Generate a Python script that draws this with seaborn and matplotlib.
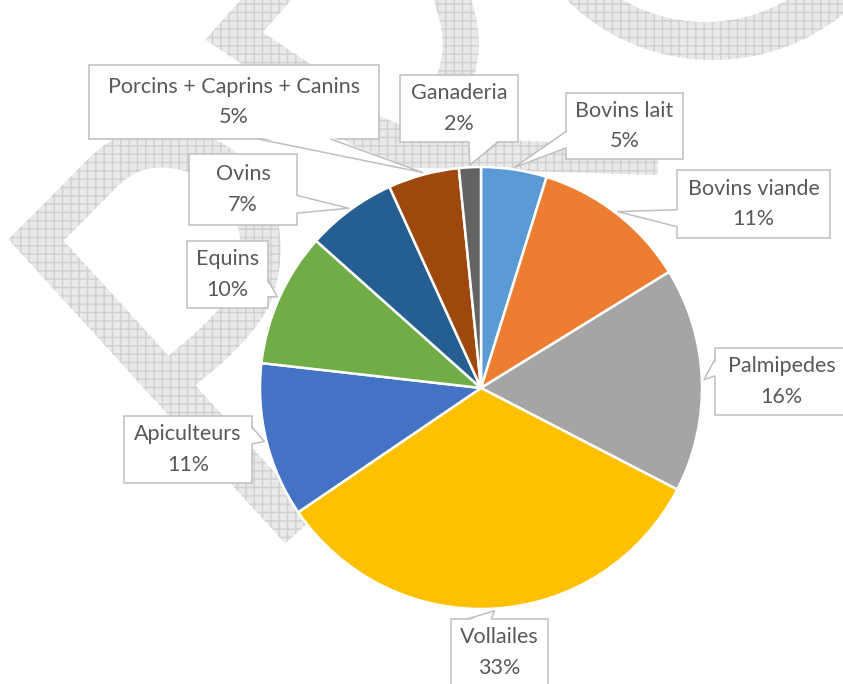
import numpy as np
import matplotlib
matplotlib.use('Agg')
import matplotlib.pyplot as plt
from matplotlib.patches import Polygon, Rectangle
import seaborn as sns

# Data: share of each breeding sector (%), clockwise from the top
categories = ['Bovins lait', 'Bovins viande', 'Palmipedes', 'Vollailes', 'Apiculteurs',
              'Equins', 'Ovins', 'Porcins + Caprins + Canins', 'Ganaderia']
shares = [4.8, 11.4, 16.4, 32.9, 11.3, 9.8, 6.6, 5.2, 1.6]
colors = ['#5B9BD5', '#ED7D31', '#A5A5A5', '#FFC000', '#4472C4',
          '#70AD47', '#255E91', '#9E480E', '#636363']

# callout boxes (left, top, right, bottom) in image pixels, same order
label_boxes = [(566, 93, 683, 159), (677, 170, 830, 238), (715, 348, 848, 415),
               (451, 619, 548, 686), (124, 416, 252, 483), (187, 241, 268, 308),
               (189, 154, 297, 225), (89, 65, 379, 139), (400, 75, 518, 142)]

W, H = 843, 684
sns.set_theme(style='white')
plt.rcParams['font.family'] = ['Lato', 'DejaVu Sans']
plt.rcParams['hatch.color'] = '#CFCFCF'
plt.rcParams['hatch.linewidth'] = 1.0

fig = plt.figure(figsize=(W / 100, H / 100), dpi=100)
ax = fig.add_axes([0, 0, 1, 1])


def flip(pts):
    p = np.asarray(pts, float).copy()
    p[:, 1] = H - p[:, 1]
    return p


def smooth(pts, n=3):
    p = np.asarray(pts, float)
    for _ in range(n):
        q = 0.75 * p[:-1] + 0.25 * p[1:]
        r = 0.25 * p[:-1] + 0.75 * p[1:]
        p = np.vstack([p[0], np.column_stack([q, r]).reshape(-1, 2), p[-1]])
    return p


def band(pts, width):
    p = np.asarray(pts, float)
    d = np.diff(p, axis=0)
    d /= np.linalg.norm(d, axis=1)[:, None]
    nrm = np.column_stack([-d[:, 1], d[:, 0]])
    offs = np.zeros_like(p)
    offs[0], offs[-1] = nrm[0], nrm[-1]
    for i in range(1, len(p) - 1):
        m = nrm[i - 1] + nrm[i]
        m /= np.linalg.norm(m)
        offs[i] = m / np.dot(m, nrm[i])
    return np.vstack([p + offs * width / 2, (p - offs * width / 2)[::-1]])


# background watermark (hatched grey bands)
leaf = np.vstack([[(300, 530)],
                  smooth([(36, 240), (80, 196), (122, 153), (168, 145), (218, 160),
                          (252, 197), (263, 247), (254, 297), (222, 337), (180, 372)])])
wm_shapes = [band(leaf, 40),
             band([(288, -25), (234, 36), (300, 80), (360, 128), (415, 152)], 38),
             band(smooth([(448, -15), (463, 35), (456, 82), (434, 122), (400, 150)]), 36),
             band([(390, 152), (658, 160)], 30)]
t = np.linspace(0, np.pi, 120)
outer = np.column_stack([713 - 208 * np.cos(t), -148 + 208 * np.sin(t)])
inner = np.column_stack([705 - 164 * np.cos(t), -142 + 164 * np.sin(t)])
wm_shapes.append(np.vstack([outer, inner[::-1]]))
for shp in wm_shapes:
    ax.add_patch(Polygon(flip(shp), closed=True, facecolor='#E9E9E9', edgecolor='#CFCFCF',
                         hatch='++', linewidth=0, zorder=0))

# pie
cx, cy, rad = 481, H - 388, 221
wedges, _ = ax.pie(shares, colors=colors, startangle=90, counterclock=False,
                   center=(cx, cy), radius=rad, normalize=True,
                   wedgeprops=dict(edgecolor='white', linewidth=1.8))
for w in wedges:
    w.set_zorder(2)

pct = np.array(shares) / sum(shares) * 100
edge_col = '#BFBFBF'
for w, name, p, (x0, y0, x1, y1) in zip(wedges, categories, pct, label_boxes):
    mid = np.deg2rad((w.theta1 + w.theta2) / 2)
    tipx = cx + rad * 1.01 * np.cos(mid)
    tipy = H - (cy + rad * 1.01 * np.sin(mid))  # screen y
    bw, bh = x1 - x0, y1 - y0
    hc, vc = (x0 + x1) / 2, (y0 + y1) / 2
    dx, dy = tipx - hc, tipy - vc
    # tail base placed like an Office rectangle callout
    if abs(dy) - abs(dx * bh / bw) > 0:
        g = (7, 10) if dx > 0 else (2, 5)
        ye = y1 if dy > 0 else y0
        s = 1 if dy > 0 else -1
        b1, b2 = (x0 + bw * g[0] / 12, ye), (x0 + bw * g[1] / 12, ye)
        i1, i2 = (b1[0], ye - 2 * s), (b2[0], ye - 2 * s)
    else:
        g = (7, 10) if dy > 0 else (2, 5)
        xe = x1 if dx > 0 else x0
        s = 1 if dx > 0 else -1
        b1, b2 = (xe, y0 + bh * g[0] / 12), (xe, y0 + bh * g[1] / 12)
        i1, i2 = (xe - 2 * s, b1[1]), (xe - 2 * s, b2[1])
    ax.add_patch(Rectangle((x0, H - y1), bw, bh, facecolor='white', edgecolor=edge_col,
                           linewidth=1.1, zorder=3))
    ax.add_patch(Polygon(flip([i1, (tipx, tipy), i2]), closed=True, facecolor='white',
                         edgecolor='none', zorder=4))
    tail = flip([b1, (tipx, tipy), b2])
    ax.plot(tail[:, 0], tail[:, 1], color=edge_col, linewidth=1.1, zorder=5)
    ax.text(hc, H - vc, f'{name}\n{p:.0f}%', ha='center', va='center', multialignment='center',
            fontsize=15.5, color='#595959', linespacing=1.65, zorder=6)

ax.set_xlim(0, W)
ax.set_ylim(0, H)
ax.set_aspect('auto')
ax.axis('off')
fig.savefig('out.png', dpi=100, facecolor='white')
